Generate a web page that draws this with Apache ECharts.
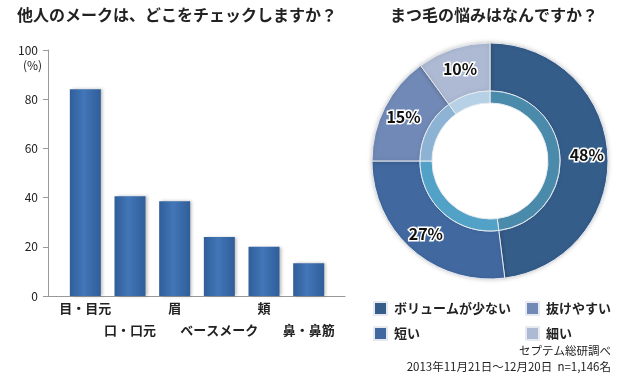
<!DOCTYPE html>
<html>
<head>
<meta charset="utf-8">
<script src="https://cdn.jsdelivr.net/npm/echarts@6/dist/echarts.min.js"></script>
<style>html,body{margin:0;padding:0;background:#fff}#c{width:627px;height:380px}</style>
</head>
<body>
<div id="c"></div>
<script>
const barCategories = ['目・目元', '口・口元', '眉', 'ベースメーク', '頬', '鼻・鼻筋'];
const barValues = [84, 40.5, 38.5, 24, 20, 13.3];
const yTicks = [0, 20, 40, 60, 80, 100];
const pieNames = ['ボリュームが少ない', '短い', '抜けやすい', '細い'];
const pieValues = [48, 27, 15, 10];
const pieColors = ['#355d8a', '#4169a0', '#7189b6', '#aebad3'];
const innerColors = ['#4a8aab', '#52a2c8', '#8cb3d3', '#b6d0e5'];

const FONT = '"Noto Sans CJK JP", "Noto Sans", sans-serif';
const chart = echarts.init(document.getElementById('c'), null, {renderer: 'canvas'});

const option = {
  animation: false,
  backgroundColor: '#fff',
  textStyle: {fontFamily: FONT},
  title: [
    {text: '他人のメークは、どこをチェックしますか？', left: 17, top: 7, padding: 0,
     textStyle: {fontSize: 16, fontWeight: 'bold', color: '#222', fontFamily: FONT}},
    {text: 'まつ毛の悩みはなんですか？', left: 390, top: 7, padding: 0,
     textStyle: {fontSize: 16, fontWeight: 'bold', color: '#222', fontFamily: FONT}},
    {text: '(%)', left: 23, top: 59, padding: 0,
     textStyle: {fontSize: 12, fontWeight: 'normal', color: '#222', fontFamily: FONT}},
    {text: 'セプテム総研調べ', right: 16, top: 345, padding: 0,
     textStyle: {fontSize: 11.5, fontWeight: 'normal', color: '#222', fontFamily: FONT}},
    {text: '2013年11月21日～12月20日  n=1,146名', right: 16, top: 361, padding: 0,
     textStyle: {fontSize: 11.5, fontWeight: 'normal', color: '#222', fontFamily: FONT}}
  ],
  legend: [
    {data: [pieNames[0], pieNames[1]], orient: 'vertical', left: 373, top: 301, padding: 0,
     itemWidth: 13, itemHeight: 13, itemGap: 10, icon: 'rect', selectedMode: false,
     textStyle: {fontSize: 13, fontWeight: 'bold', color: '#222', fontFamily: FONT, padding: [0, 0, 0, 2]}},
    {data: [pieNames[2], pieNames[3]], orient: 'vertical', left: 525, top: 301, padding: 0,
     itemWidth: 13, itemHeight: 13, itemGap: 10, icon: 'rect', selectedMode: false,
     textStyle: {fontSize: 13, fontWeight: 'bold', color: '#222', fontFamily: FONT, padding: [0, 0, 0, 2]}}
  ],
  grid: [
    {left: 63, right: 296, top: 50, bottom: 84},
    {left: 48, right: 282, top: 50, bottom: 84}
  ],
  xAxis: [
    {type: 'category', gridIndex: 0, data: barCategories,
     axisLine: {show: false}, axisTick: {show: false},
     axisLabel: {interval: 0, margin: 1, fontSize: 13, fontWeight: 'bold', color: '#222',
       lineHeight: 22, fontFamily: FONT,
       formatter: (v, i) => (i % 2 ? '\n' + v : v)}},
    {type: 'value', gridIndex: 1, min: 0, max: 1,
     axisLine: {show: true, lineStyle: {color: '#999', width: 1}},
     axisTick: {show: false}, axisLabel: {show: false}, splitLine: {show: false}}
  ],
  yAxis: [
    {type: 'value', gridIndex: 0, min: yTicks[0], max: yTicks[yTicks.length - 1], interval: 20,
     offset: 15,
     axisLine: {show: true, lineStyle: {color: '#999', width: 1}},
     axisTick: {show: true, length: 5, lineStyle: {color: '#999'}},
     axisLabel: {margin: 10, fontSize: 12, color: '#222', fontFamily: FONT},
     splitLine: {show: false}},
    {type: 'value', gridIndex: 1, show: false, min: 0, max: 1}
  ],
  series: [
    {type: 'bar', xAxisIndex: 0, yAxisIndex: 0, data: barValues, barWidth: 31,
     itemStyle: {
       color: new echarts.graphic.LinearGradient(0, 0, 1, 0, [
         {offset: 0, color: '#305e99'},
         {offset: 0.45, color: '#4276b8'},
         {offset: 1, color: '#305e99'}
       ]),
       shadowColor: 'rgba(0,0,0,0.25)', shadowBlur: 3, shadowOffsetX: 2, shadowOffsetY: 0
     }},
    {type: 'pie', center: [490, 161], radius: [70, 118], startAngle: 90, silent: true,
     data: pieNames.map((n, i) => ({name: n, value: pieValues[i], itemStyle: {color: pieColors[i]}})),
     itemStyle: {borderColor: '#e6eaf0', borderWidth: 1, shadowColor: 'rgba(0,0,0,0.2)', shadowBlur: 4},
     label: {show: true, position: 'inside', formatter: '{c}%', fontSize: 16, fontWeight: 'bold',
       color: '#111', textBorderColor: '#fff', textBorderWidth: 3, fontFamily: FONT},
     labelLine: {show: false}},
    {type: 'pie', center: [490, 161], radius: [58, 70], startAngle: 90, silent: true,
     data: pieNames.map((n, i) => ({name: n, value: pieValues[i], itemStyle: {color: innerColors[i]}})),
     itemStyle: {borderColor: '#e6eaf0', borderWidth: 1},
     label: {show: false}, labelLine: {show: false}}
  ]
};
chart.setOption(option);
</script>
</body>
</html>
